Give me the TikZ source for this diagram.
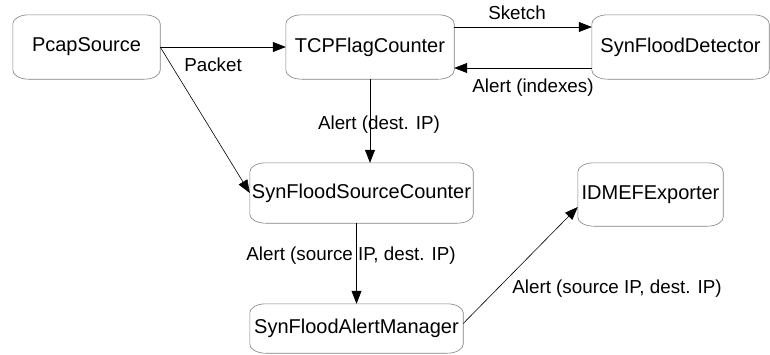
\documentclass[tikz,border=0pt]{standalone}
\usepackage{fontspec}
\setmainfont{Liberation Sans}
\usetikzlibrary{arrows.meta}
\begin{document}
\begin{tikzpicture}[x=1pt,y=-1pt,
  box/.style={inner sep=0pt,font=\fontsize{20}{22}\selectfont},
  outline/.style={draw=black!50,line width=0.6pt,fill=white},
  lbl/.style={inner sep=0pt,font=\fontsize{18.8}{21}\selectfont},
  conn/.style={draw=black,line width=0.6pt,-{Triangle[length=13pt,width=10pt]}}]
\useasboundingbox (0,0) rectangle (770,354);
\node[box,minimum width=147pt,minimum height=64pt] (pcap) at (86.5,47) {};
\node[box,minimum width=168pt,minimum height=64pt] (tcp) at (370,47) {};
\node[box,minimum width=177pt,minimum height=64pt] (det) at (680.5,47) {};
\node[box,minimum width=223pt,minimum height=60pt] (ssc) at (361.5,193) {};
\node[box,minimum width=145pt,minimum height=63pt] (idm) at (650.5,194.5) {};
\node[box,minimum width=213pt,minimum height=49pt] (sam) at (356.5,328.5) {};
\foreach \n in {pcap,tcp,det,ssc,idm,sam}{
  \draw[outline] ([xshift=16pt]\n.north west) -- ([xshift=-16pt]\n.north east)
    arc[start angle=90,end angle=0,x radius=16pt,y radius=9pt]
    -- ([yshift=9pt]\n.south east)
    arc[start angle=0,end angle=-90,x radius=16pt,y radius=9pt]
    -- ([xshift=16pt]\n.south west)
    arc[start angle=270,end angle=180,x radius=16pt,y radius=9pt]
    -- ([yshift=-9pt]\n.north west)
    arc[start angle=180,end angle=90,x radius=16pt,y radius=9pt] -- cycle;
}
\node[box] at (pcap) {PcapSource};
\node[box] at (tcp) {TCPFlagCounter};
\node[box] at (det) {SynFloodDetector};
\node[box] at (ssc) {SynFloodSourceCounter};
\node[box] at (idm) {IDMEFExporter};
\node[box] at (sam) {SynFloodAlertManager};

\draw[conn] (pcap.east) -- (tcp.west);
\draw[conn] (pcap.east) -- (ssc.west);
\draw[conn] ([yshift=20pt]tcp.east) -- ([yshift=20pt]det.west);
\draw[conn] ([yshift=-21pt]det.west) -- ([yshift=-21pt]tcp.east);
\draw[conn] (tcp.south) -- (tcp.south |- ssc.north);
\draw[conn] (ssc.south -| sam.north) -- (sam.north);
\draw[conn] ([yshift=5pt]sam.east) -- ([yshift=-12.5pt]idm.west);

\node[lbl] (l1) at (213,65) {Packet};
\node[lbl] (l2) at (517,13) {Sketch};
\node[lbl] (l3) at (533,88) {Alert (indexes)};
\node[lbl] (l4) at (379,125) {Alert (dest. IP)};
\node[lbl] (l5) at (351,256) {Alert (source IP, dest. IP)};
\node[lbl] (l6) at (617,289) {Alert (source IP, dest. IP)};
\end{tikzpicture}
\end{document}
